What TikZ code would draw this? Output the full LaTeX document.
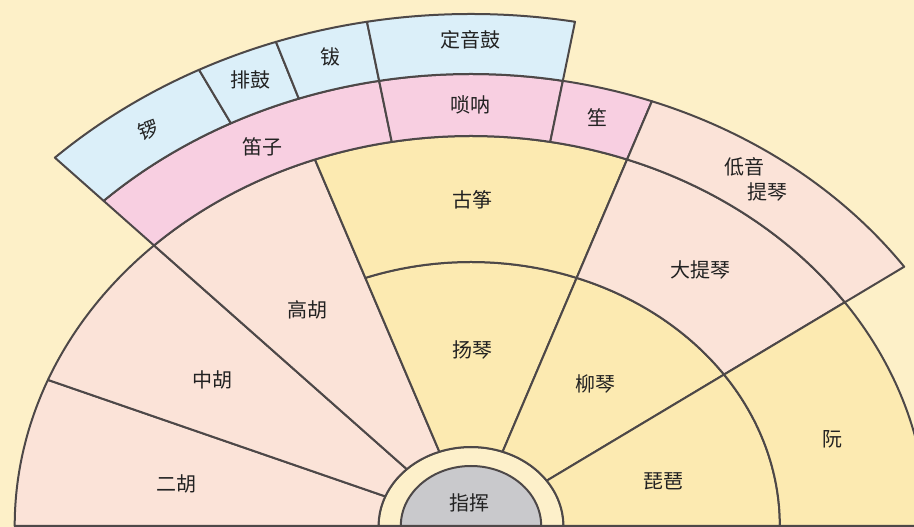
\documentclass[tikz,border=0pt]{standalone}
\usepackage{fontspec}
\newfontfamily\cjk{Noto Sans CJK SC}
\definecolor{bgc}{HTML}{FDF0C8}
\definecolor{yelc}{HTML}{FCEAB1}
\definecolor{peachc}{HTML}{FBE3D8}
\definecolor{pinkc}{HTML}{F8CFE1}
\definecolor{bluec}{HTML}{DBEFF9}
\definecolor{grayc}{HTML}{C9C9CC}
\definecolor{ringc}{HTML}{FDF0CA}
\definecolor{linec}{HTML}{4D4848}
\definecolor{textc}{HTML}{222222}
\newcommand\mysector[5]{%
  \filldraw[sec, fill=#5] (#1:#3) arc[start angle=#1, end angle=#2, radius=#3]
    -- (#2:#4) arc[start angle=#2, end angle=#1, radius=#4] -- cycle;}
\begin{document}
\begin{tikzpicture}[x=1pt,y=1pt,
  sec/.style={draw=linec, line width=2pt, line join=round},
  lab/.style={font=\cjk\fontsize{20}{20}\selectfont, text=textc, inner sep=0pt}]
\fill[bgc] (0,0) rectangle (914,527);
\useasboundingbox (0,0) rectangle (914,527);
\begin{scope}[shift={(471,1)}, xscale=1.17]
  % conductor ring
  \filldraw[sec, fill=ringc] (0:79) arc[start angle=0, end angle=180, radius=79] -- cycle;
  % bowed strings
  \mysector{158}{180}{79}{390}{peachc}
  \mysector{134}{158}{79}{390}{peachc}
  \mysector{110}{134}{79}{390}{peachc}
  % plucked strings
  \mysector{70}{110}{79}{264}{yelc}
  \mysector{70}{110}{264}{390}{yelc}
  \mysector{35}{70}{79}{264}{yelc}
  \mysector{0}{35}{79}{264}{yelc}
  \mysector{35}{70}{264}{390}{peachc}
  \mysector{0}{35}{264}{390}{yelc}
  % winds and bass
  \mysector{100}{134}{390}{452}{pinkc}
  \mysector{80}{100}{390}{452}{pinkc}
  \mysector{70}{80}{390}{452}{pinkc}
  \mysector{35}{70}{390}{452}{peachc}
  % percussion
  \mysector{117}{134}{452}{512}{bluec}
  \mysector{109}{117}{452}{512}{bluec}
  \mysector{100}{109}{452}{512}{bluec}
  \mysector{80}{100}{452}{512}{bluec}
  % conductor
  \filldraw[sec, fill=grayc] (0:60) arc[start angle=0, end angle=180, radius=60] -- cycle;
\end{scope}
% labels
\node[lab, rotate=20] (luo) at (148,397) {锣};
\node[lab] (paigu) at (250,447) {排鼓};
\node[lab] (bo) at (330,470) {钹};
\node[lab] (dingyingu) at (470,487) {定音鼓};
\node[lab] (dizi) at (262,380) {笛子};
\node[lab] (suona) at (470,422) {唢呐};
\node[lab] (sheng) at (597,409) {笙};
\node[lab] (diyin) at (744,360) {低音};
\node[lab] (tiqin) at (767,335) {提琴};
\node[lab] (guzheng) at (472,327) {古筝};
\node[lab] (gaohu) at (307,217) {高胡};
\node[lab] (zhonghu) at (212,147) {中胡};
\node[lab] (erhu) at (176,43) {二胡};
\node[lab] (yangqin) at (472,177) {扬琴};
\node[lab] (liuqin) at (595,143) {柳琴};
\node[lab] (datiqin) at (700,257) {大提琴};
\node[lab] (pipa) at (663,46) {琵琶};
\node[lab] (ruan) at (832,88) {阮};
\node[lab] (zhihui) at (469,24) {指挥};
\end{tikzpicture}
\end{document}
